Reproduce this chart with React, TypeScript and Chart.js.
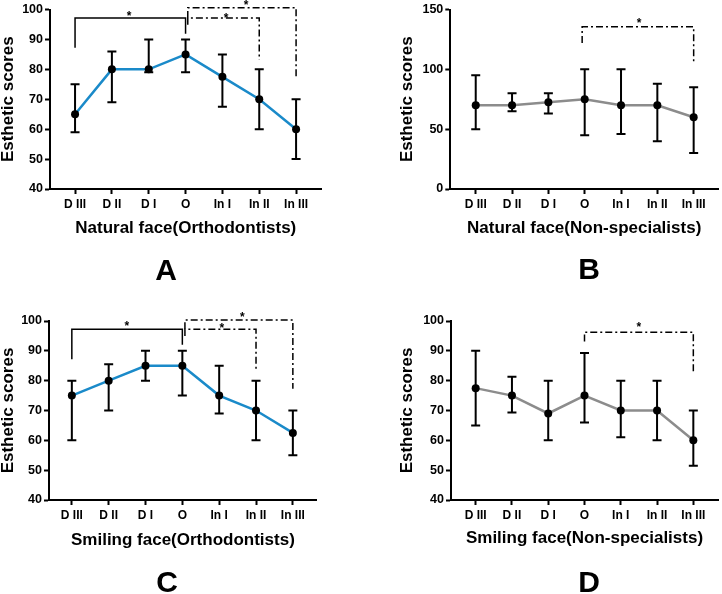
import React, { useEffect, useRef } from 'react';
import { Chart, registerables } from 'chart.js';

Chart.register(...registerables);

const FONT = '"Liberation Sans", Arial, Helvetica, sans-serif';

// ---------- data ----------
const categories = ['D III', 'D II', 'D I', 'O', 'In I', 'In II', 'In III'];

const meansA = [65, 80, 80, 85, 77.5, 70, 60];
const lowA = [59, 69, 79, 79, 67.5, 60, 50];
const highA = [75, 86, 90, 90, 85, 80, 70];

const meansB = [70, 70, 72.5, 75, 70, 70, 60];
const lowB = [50, 65, 63, 45, 46, 40, 30];
const highB = [95, 80, 80, 100, 100, 88, 85];

const meansC = [75, 80, 85, 85, 75, 70, 62.5];
const lowC = [60, 70, 80, 75, 69, 60, 55];
const highC = [80, 85.5, 90, 90, 85, 80, 70];

const meansD = [77.5, 75, 69, 75, 70, 70, 60];
const lowD = [65, 69.3, 60, 66, 61, 60, 51.5];
const highD = [90, 81.3, 80, 89.3, 80, 80, 70];

// significance brackets: [xStart, xEnd, yTop, yLeftEnd, yRightEnd, dashed(1/0)]
const bracketsA = [
  [0, 3, 97.2, 87.2, 91.9, 0],
  [3.06, 5, 97.2, 94.9, 83.2, 1],
  [3.06, 6, 100.6, 97.2, 77.7, 1],
];
const bracketsB = [[2.93, 6, 135.5, 122, 106.7, 1]];
const bracketsC = [
  [0, 3, 97.2, 87.2, 92, 0],
  [3.07, 5, 97.2, 95, 83.3, 1],
  [3.07, 6, 100.3, 97.2, 77.3, 1],
];
const bracketsD = [[3, 6, 96.2, 93.1, 82.6, 1]];

// significance stars: [x, y]
const starsA = [[1.47, 98.9], [4.1, 98.3], [4.64, 102.4]];
const starsB = [[4.5, 141]];
const starsC = [[1.49, 99.2], [4.07, 98.7], [4.63, 102.2]];
const starsD = [[4.5, 98.9]];

const yTicksOrtho = { min: 40, max: 100, step: 10 };
const yTicksNatNon = { min: 0, max: 150, step: 50 };

// ---------- layout / style ----------
const BLUE = '#1a8ac9';
const GRAY = '#8c8c8c';

const panels = [
  {
    key: 'A', letter: 'A', xTitle: 'Natural face(Orthodontists)',
    means: meansA, low: lowA, high: highA, brackets: bracketsA, stars: starsA, yt: yTicksOrtho, color: BLUE,
    box: { left: 0, top: 0, w: 361, h: 300 },
    area: { left: 50, right: 321.5, top: 9, bottom: 189 }, xMin: -0.68, xMax: 6.69,
    yTitleX: 8.5, xTitleY: 228.8, letterX: 166, letterY: 280,
  },
  {
    key: 'B', letter: 'B', xTitle: 'Natural face(Non-specialists)',
    means: meansB, low: lowB, high: highB, brackets: bracketsB, stars: starsB, yt: yTicksNatNon, color: GRAY,
    box: { left: 361, top: 0, w: 361, h: 300 },
    area: { left: 89.3, right: 361, top: 9, bottom: 189 }, xMin: -0.7, xMax: 6.67,
    yTitleX: 46.5, xTitleY: 228.5, letterX: 228, letterY: 279,
  },
  {
    key: 'C', letter: 'C', xTitle: 'Smiling face(Orthodontists)',
    means: meansC, low: lowC, high: highC, brackets: bracketsC, stars: starsC, yt: yTicksOrtho, color: BLUE,
    box: { left: 0, top: 300, w: 361, h: 294 },
    area: { left: 49, right: 316.8, top: 21, bottom: 200 }, xMin: -0.62, xMax: 6.65,
    yTitleX: 8.5, xTitleY: 240.8, letterX: 167, letterY: 292,
  },
  {
    key: 'D', letter: 'D', xTitle: 'Smiling face(Non-specialists)',
    means: meansD, low: lowD, high: highD, brackets: bracketsD, stars: starsD, yt: yTicksOrtho, color: GRAY,
    box: { left: 361, top: 300, w: 361, h: 294 },
    area: { left: 90, right: 361, top: 21, bottom: 200 }, xMin: -0.68, xMax: 6.68,
    yTitleX: 46.5, xTitleY: 238.5, letterX: 228, letterY: 292,
  },
];

function Panel({ cfg }: { cfg: any }) {
  const ref = useRef<HTMLCanvasElement>(null);

  useEffect(() => {
    const canvas = ref.current;
    if (!canvas) return;
    const { area, box } = cfg;
    const TITLE = 17;
    const padLeft = cfg.yTitleX - TITLE / 2;
    const xBottom = cfg.xTitleY + TITLE / 2;

    const datasets: any[] = [];
    cfg.brackets.forEach((b: number[]) => {
      datasets.push({
        data: [
          { x: b[0], y: b[3] },
          { x: b[0], y: b[2] },
          { x: b[1], y: b[2] },
          { x: b[1], y: b[4] },
        ],
        borderColor: '#000',
        borderWidth: 1.5,
        borderDash: b[5] ? [7, 3, 2, 3] : [],
        pointRadius: 0,
        fill: false,
        tension: 0,
        clip: false,
      });
    });
    datasets.push({
      data: cfg.means.map((y: number, i: number) => ({ x: i, y })),
      borderColor: cfg.color,
      borderWidth: 2.5,
      pointRadius: 4,
      pointBackgroundColor: '#000',
      pointBorderColor: '#000',
      pointBorderWidth: 0,
      fill: false,
      tension: 0,
      clip: false,
    });

    const errorBars = {
      id: 'errorBars' + cfg.key,
      beforeDatasetsDraw(chart: any) {
        const { ctx, scales } = chart;
        const xs = scales.x;
        const ys = scales.y;
        ctx.save();
        ctx.strokeStyle = '#000';
        ctx.lineWidth = 2;
        cfg.means.forEach((_: number, i: number) => {
          const px = xs.getPixelForValue(i);
          const yh = ys.getPixelForValue(cfg.high[i]);
          const yl = ys.getPixelForValue(cfg.low[i]);
          ctx.beginPath();
          ctx.moveTo(px, yh);
          ctx.lineTo(px, yl);
          ctx.moveTo(px - 4.5, yh);
          ctx.lineTo(px + 4.5, yh);
          ctx.moveTo(px - 4.5, yl);
          ctx.lineTo(px + 4.5, yl);
          ctx.stroke();
        });
        ctx.restore();
      },
    };

    const annotations = {
      id: 'annot' + cfg.key,
      afterDraw(chart: any) {
        const { ctx, scales } = chart;
        ctx.save();
        ctx.fillStyle = '#000';
        ctx.textAlign = 'center';
        ctx.textBaseline = 'alphabetic';
        ctx.font = `bold 12px ${FONT}`;
        cfg.stars.forEach((s: number[]) => {
          const px = scales.x.getPixelForValue(s[0]);
          const py = scales.y.getPixelForValue(s[1]);
          ctx.fillText('*', px, py + 7);
        });
        ctx.font = `bold 30px ${FONT}`;
        ctx.fillText(cfg.letter, cfg.letterX, cfg.letterY);
        ctx.restore();
      },
    };

    const chart = new Chart(canvas, {
      type: 'line',
      data: { datasets },
      options: {
        responsive: false,
        animation: false,
        events: [],
        layout: {
          padding: {
            left: padLeft,
            top: area.top,
            right: box.w - area.right,
            bottom: box.h - xBottom,
          },
        },
        plugins: { legend: { display: false }, tooltip: { enabled: false } },
        scales: {
          x: {
            type: 'linear',
            min: cfg.xMin,
            max: cfg.xMax,
            afterBuildTicks: (s: any) => {
              s.ticks = categories.map((_, i) => ({ value: i }));
            },
            afterFit: (s: any) => {
              s.height = xBottom - area.bottom;
            },
            ticks: {
              callback: (_v: any, i: number) => categories[i],
              autoSkip: false,
              maxRotation: 0,
              color: '#000',
              padding: 3,
              font: { family: FONT, size: 12, weight: 'bold' },
            },
            grid: {
              drawOnChartArea: false,
              drawTicks: true,
              tickLength: 5,
              tickWidth: 2,
              tickColor: '#000',
            },
            border: { display: true, color: '#000', width: 2 },
            title: {
              display: true,
              text: cfg.xTitle,
              color: '#000',
              padding: 0,
              font: { family: FONT, size: TITLE, weight: 'bold', lineHeight: 1 },
            },
          },
          y: {
            type: 'linear',
            min: cfg.yt.min,
            max: cfg.yt.max,
            afterFit: (s: any) => {
              s.width = area.left - padLeft;
            },
            ticks: {
              stepSize: cfg.yt.step,
              color: '#000',
              padding: 2,
              font: { family: FONT, size: 12.5, weight: 'bold' },
            },
            grid: {
              drawOnChartArea: false,
              drawTicks: true,
              tickLength: 5,
              tickWidth: 2,
              tickColor: '#000',
            },
            border: { display: true, color: '#000', width: 2 },
            title: {
              display: true,
              text: 'Esthetic scores',
              color: '#000',
              padding: 0,
              font: { family: FONT, size: TITLE, weight: 'bold', lineHeight: 1 },
            },
          },
        },
      } as any,
      plugins: [errorBars, annotations],
    });

    return () => chart.destroy();
  }, [cfg]);

  return (
    <canvas
      ref={ref}
      width={cfg.box.w}
      height={cfg.box.h}
      style={{
        position: 'absolute',
        left: cfg.box.left,
        top: cfg.box.top,
        width: cfg.box.w,
        height: cfg.box.h,
      }}
    />
  );
}

export default function App() {
  return (
    <div
      style={{
        position: 'absolute',
        left: 0,
        top: 0,
        width: 722,
        height: 594,
        background: '#fff',
        overflow: 'hidden',
      }}
    >
      {panels.map((p) => (
        <Panel key={p.key} cfg={p} />
      ))}
    </div>
  );
}
